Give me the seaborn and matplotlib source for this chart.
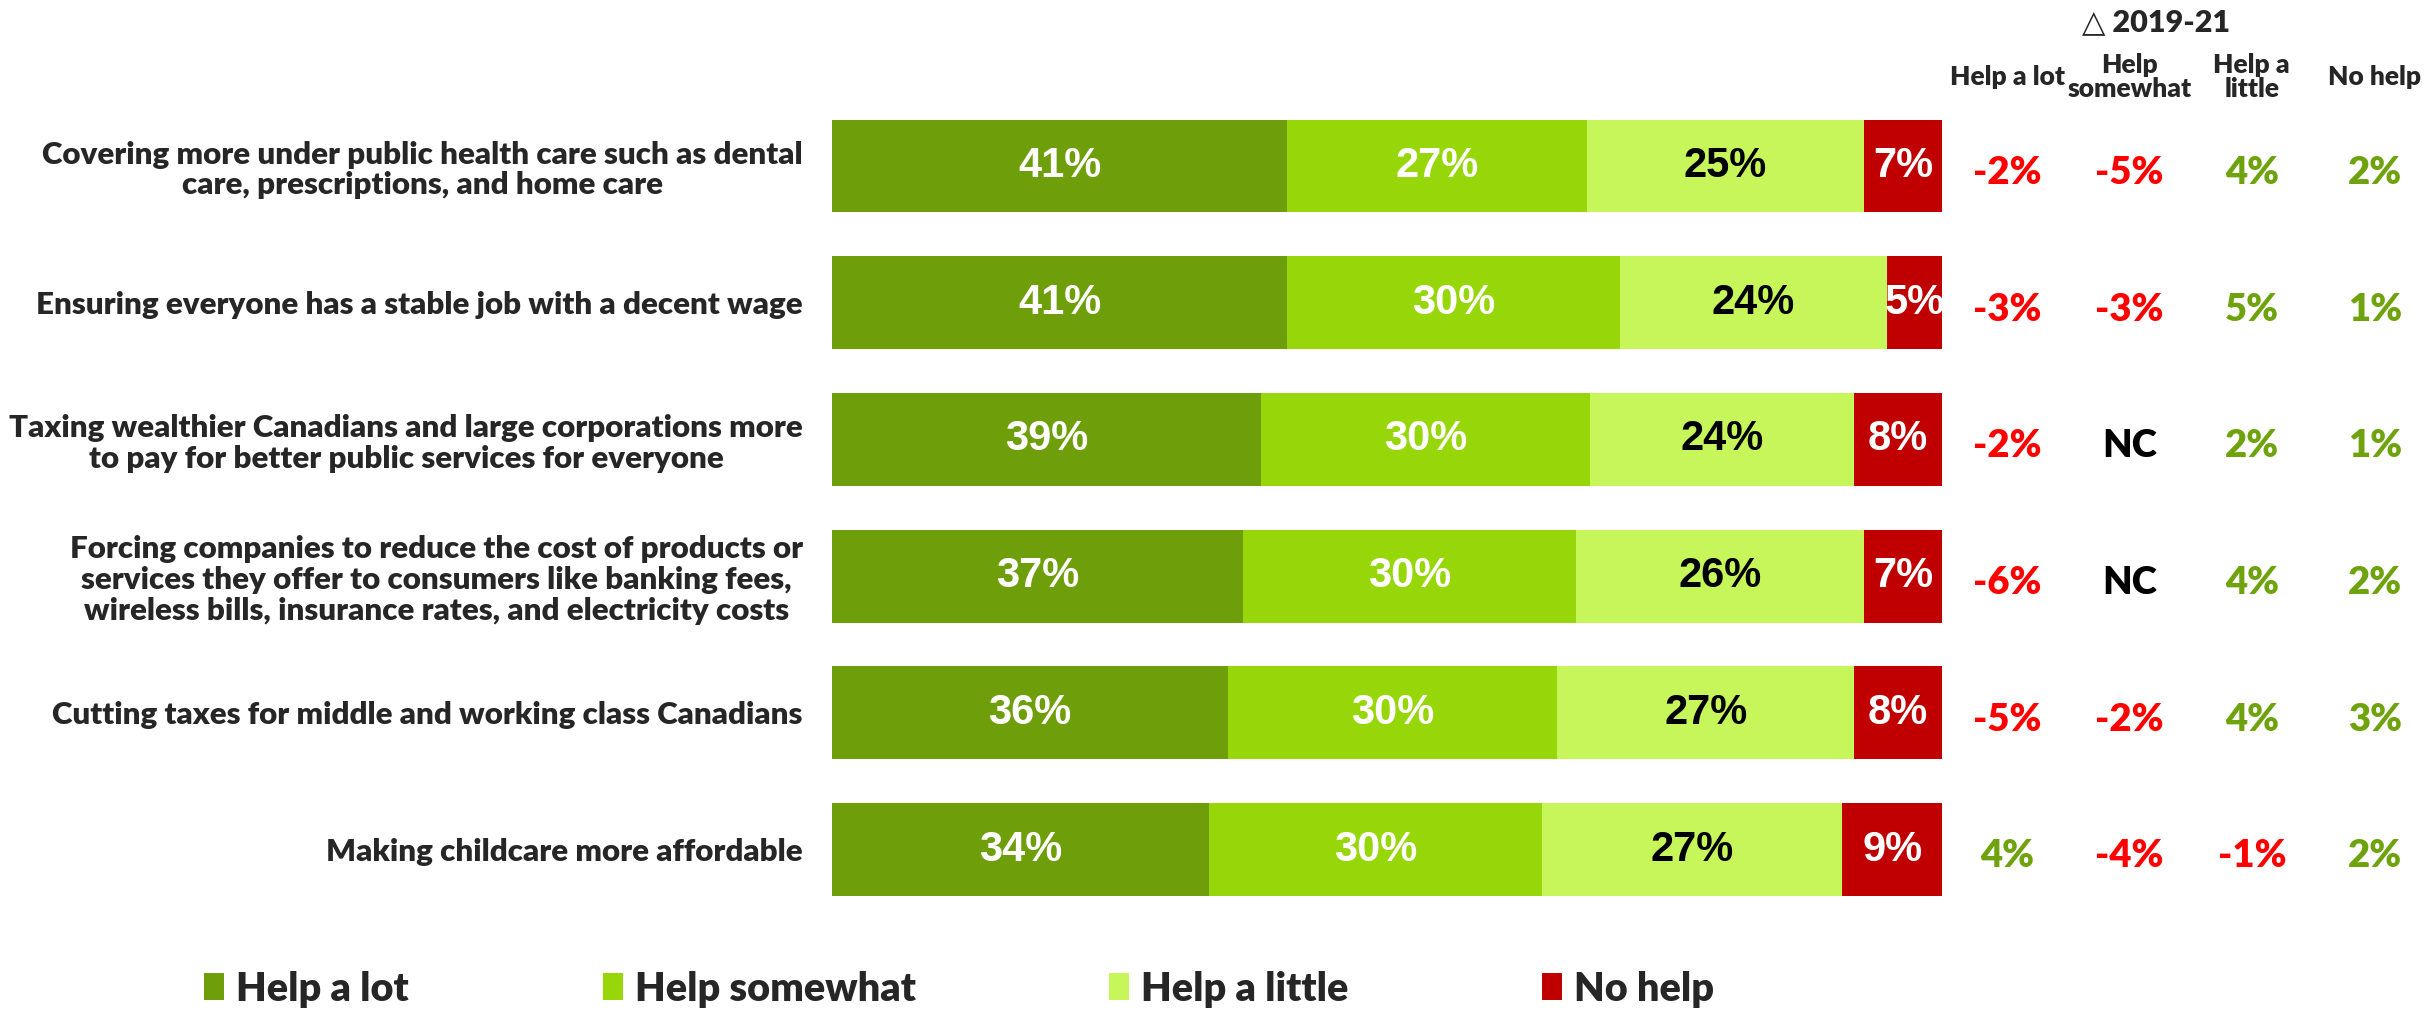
import numpy as np
import pandas as pd
import matplotlib
matplotlib.use("Agg")
import matplotlib.pyplot as plt
from matplotlib.patches import Patch
import seaborn as sns

# --- data ---
categories = [
    "Covering more under public health care such as dental\ncare, prescriptions, and home care",
    "Ensuring everyone has a stable job with a decent wage",
    "Taxing wealthier Canadians and large corporations more\nto pay for better public services for everyone",
    "Forcing companies to reduce the cost of products or\nservices they offer to consumers like banking fees,\nwireless bills, insurance rates, and electricity costs",
    "Cutting taxes for middle and working class Canadians",
    "Making childcare more affordable",
]
series_names = ["Help a lot", "Help somewhat", "Help a little", "No help"]
help_a_lot = [41, 41, 39, 37, 36, 34]
help_somewhat = [27, 30, 30, 30, 30, 30]
help_a_little = [25, 24, 24, 26, 27, 27]
no_help = [7, 5, 8, 7, 8, 9]

delta_header = ["Help a lot", "Help\nsomewhat", "Help a\nlittle", "No help"]
delta_lot = ["-2%", "-3%", "-2%", "-6%", "-5%", "4%"]
delta_somewhat = ["-5%", "-3%", "NC", "NC", "-2%", "-4%"]
delta_little = ["4%", "5%", "2%", "4%", "4%", "-1%"]
delta_no = ["2%", "1%", "1%", "2%", "3%", "2%"]

colors = ["#6E9E0A", "#97D70A", "#C6F65A", "#C00000"]
label_colors = ["white", "white", "black", "white"]
RED = "#FF0000"
GREEN = "#6EA30E"
HEAVY = "heavy"

sns.set_theme(style="white")
plt.rcParams["font.family"] = ["Lato", "DejaVu Sans"]
plt.rcParams["font.weight"] = HEAVY

df = pd.DataFrame({
    "category": categories,
    "Help a lot": help_a_lot,
    "Help somewhat": help_somewhat,
    "Help a little": help_a_little,
    "No help": no_help,
})
# rows rounding to 101 are scaled so every bar fills 100%
totals = df[series_names].sum(axis=1)
shares = df[series_names].div(totals, axis=0) * 100
cum = shares.cumsum(axis=1)

fig = plt.figure(figsize=(24.3, 10.14), dpi=100)
ax = fig.add_axes([0.3424, 0.0947, 0.4568, 0.809])

# stacked bars: draw cumulative totals from the back to the front
for name, color in reversed(list(zip(series_names, colors))):
    sns.barplot(x=cum[name], y=df["category"], orient="h", color=color,
                saturation=1, width=0.68, linewidth=0, ax=ax)

ax.set_xlim(0, 100)
ax.set_ylim(5.5, -0.5)
ax.set_xlabel("")
ax.set_ylabel("")
ax.set_xticks([])
sns.despine(ax=ax, left=True, bottom=True)
ax.tick_params(axis="y", length=0, pad=21)
for lbl in ax.get_yticklabels():
    lbl.set_fontsize(22.5)
    lbl.set_fontweight(HEAVY)
    lbl.set_multialignment("center")
    lbl.set_linespacing(1.12)

# segment value labels
narrow = ["Liberation Sans Narrow", "Liberation Sans", "DejaVu Sans"]
for i in range(len(categories)):
    left = 0
    for name, tcol in zip(series_names, label_colors):
        w = shares.loc[i, name]
        ax.text(left + w / 2, i, f"{df.loc[i, name]}%", ha="center", va="center",
                color=tcol, fontsize=30, fontweight="bold", family=narrow)
        left += w

# change columns (delta 2019-21)
delta_cols = [delta_lot, delta_somewhat, delta_little, delta_no]
col_x = [105.9, 116.9, 127.9, 139.0]
for x, head, vals in zip(col_x, delta_header, delta_cols):
    ax.text(x, -0.65, head, ha="center", va="center", fontsize=19,
            fontweight=HEAVY, clip_on=False, linespacing=1.0)
    for i, v in enumerate(vals):
        c = "black" if v == "NC" else (RED if v.startswith("-") else GREEN)
        ax.text(x, i + 0.05, v, ha="center", va="center", fontsize=27.5,
                fontweight=HEAVY, color=c, clip_on=False)
ax.text(119.3, -1.05, "\u25B3 2019-21", ha="center", va="center", fontsize=22,
        fontweight=HEAVY, clip_on=False)

handles = [Patch(facecolor=c, edgecolor="none", label=n) for n, c in zip(series_names, colors)]
fig.legend(handles=handles, loc="center left", bbox_to_anchor=(0.076, 1 - 989 / 1014),
           ncol=4, frameon=False, handlelength=0.5, handleheight=0.65,
           handletextpad=0.3, columnspacing=4.9, borderpad=0,
           prop={"weight": HEAVY, "size": 28.5})

fig.savefig("out.png", dpi=100)
plt.close(fig)
